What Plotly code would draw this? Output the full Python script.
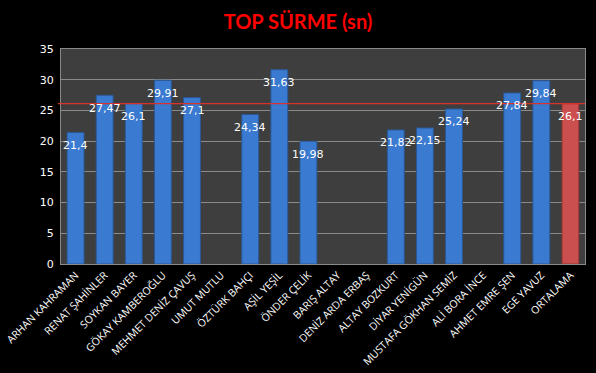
import plotly.graph_objects as go

categories = ["ARHAN KAHRAMAN", "RENAT ŞAHİNLER", "SOYKAN BAYER", "GÖKAY KAMBEROĞLU",
              "MEHMET DENİZ ÇAVUŞ", "UMUT MUTLU", "ÖZTÜRK BAHÇI", "AŞİL YEŞİL",
              "ÖNDER ÇELİK", "BARIŞ ALTAY", "DENİZ ARDA ERBAŞ", "ALTAY BOZKURT",
              "DİYAR YENİGÜN", "MUSTAFA GÖKHAN SEMİZ", "ALİ BORA İNCE",
              "AHMET EMRE ŞEN", "EGE YAVUZ", "ORTALAMA"]
values = [21.4, 27.47, 26.1, 29.91, 27.1, None, 24.34, 31.63, 19.98, None, None,
          21.82, 22.15, 25.24, None, 27.84, 29.84, 26.1]
average = 26.1
y_ticks = [0, 5, 10, 15, 20, 25, 30, 35]

colors = ["#3a7ad0"] * (len(categories) - 1) + ["#cc4f4f"]
lines = ["#2a5895"] * (len(categories) - 1) + ["#8e3431"]

fig = go.Figure()
fig.add_trace(go.Bar(
    x=categories, y=values, width=0.58,
    marker=dict(color=colors, line=dict(color=lines, width=1)),
    hoverinfo="skip",
))
for c, v in zip(categories, values):
    if v is None:
        continue
    fig.add_annotation(x=c, y=v, text=f"{v:g}".replace(".", ","), showarrow=False,
                       yshift=-13, yanchor="middle", xanchor="center",
                       font=dict(color="white", size=11, family="DejaVu Sans"))
fig.add_shape(type="line", xref="paper", yref="y", x0=-0.006, x1=1, y0=average, y1=average,
              line=dict(color="#d9312b", width=1.3))

fig.update_layout(
    width=596, height=373,
    paper_bgcolor="black", plot_bgcolor="#3e3e3e",
    margin=dict(l=61, r=11, t=49, b=109),
    showlegend=False,
    title=dict(text="<b>TOP SÜRME (sn)</b>", x=0.5, xanchor="center", y=0.94, yanchor="middle",
               font=dict(color="#ff0000", size=20, family="Lato")),
    xaxis=dict(tickangle=-45, tickfont=dict(color="white", size=10.5, family="Open Sans"),
               showline=True, linecolor="#8a8a8a", mirror=True, showgrid=False,
               ticks="", automargin=False),
    yaxis=dict(range=[0, 35], tickvals=y_ticks, tickfont=dict(color="white", size=11, family="DejaVu Sans"),
               showline=True, linecolor="#8a8a8a", mirror=True, gridcolor="#8a8a8a", gridwidth=1,
               zeroline=False, ticks="", automargin=False, ticklabelstandoff=4),
)
fig.write_html("out.html", config={"displayModeBar": False},
               post_script="document.body.style.margin='0';document.body.style.background='black';")
